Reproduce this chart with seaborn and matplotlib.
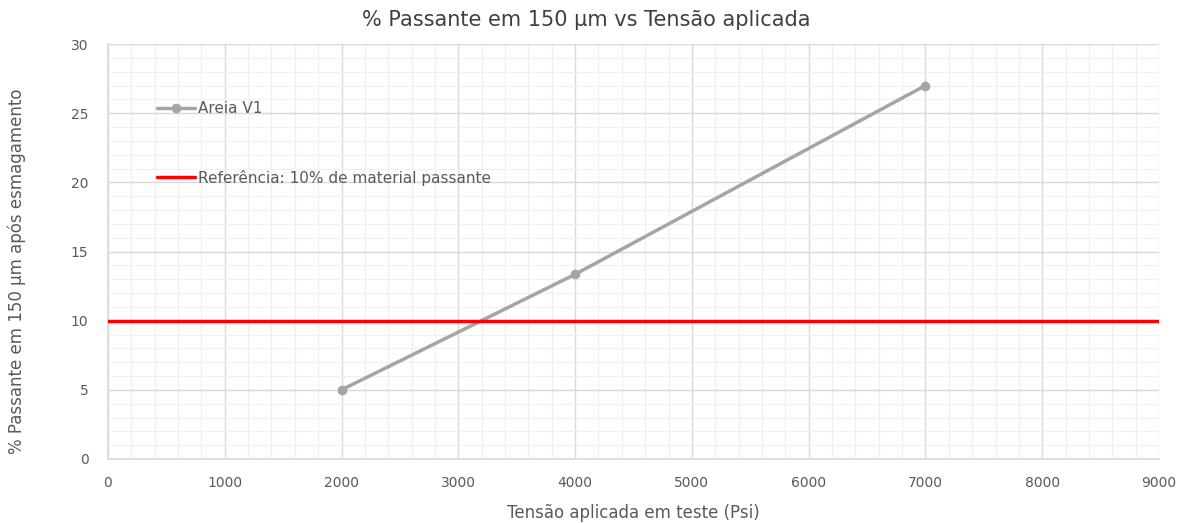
import matplotlib
matplotlib.use("Agg")
import matplotlib.pyplot as plt
from matplotlib.lines import Line2D
from matplotlib.ticker import MultipleLocator
import seaborn as sns
import pandas as pd

# Data
tensao = [2000, 4000, 7000]
passante = [5, 13.35, 27]
serie_nome = "Areia V1"
referencia_valor = 10
referencia_nome = "Referência: 10% de material passante"

title = "% Passante em 150 µm vs Tensão aplicada"
xlabel = "Tensão aplicada em teste (Psi)"
ylabel = "% Passante em 150 µm após esmagamento"

sns.set_theme(style="whitegrid")
plt.rcParams['font.family'] = ['DejaVu Sans']

text_color = "#595959"
fig = plt.figure(figsize=(11.86, 5.23), dpi=100)
ax = fig.add_axes([108/1186, 1 - 459/523, (1159-108)/1186, (459-44)/523])

df = pd.DataFrame({"x": tensao, "y": passante})
sns.lineplot(data=df, x="x", y="y", ax=ax, color="#a5a5a5", linewidth=2.5,
             marker="o", markersize=7, markeredgewidth=0, zorder=3)
ax.axhline(referencia_valor, color="#ff0000", linewidth=2.5, zorder=4)

ax.set_xlim(0, 9000)
ax.set_ylim(0, 30)
ax.xaxis.set_major_locator(MultipleLocator(1000))
ax.xaxis.set_minor_locator(MultipleLocator(200))
ax.yaxis.set_major_locator(MultipleLocator(5))
ax.yaxis.set_minor_locator(MultipleLocator(1))
ax.grid(which="major", color="#d9d9d9", linewidth=1.0)
ax.grid(which="minor", color="#f0f0f0", linewidth=0.9)
ax.set_axisbelow(True)

for s in ["top", "right"]:
    ax.spines[s].set_visible(False)
for s in ["left", "bottom"]:
    ax.spines[s].set_color("#d9d9d9")
    ax.spines[s].set_linewidth(1.2)

ax.tick_params(axis="both", which="both", length=0, colors=text_color, labelsize=10)
ax.tick_params(axis="x", pad=12)
ax.tick_params(axis="y", pad=14)

fig.text(586/1186, 1 - 20/523, title, fontsize=15, color="#404040",
         ha="center", va="center")
ax.set_xlabel(xlabel, fontsize=12, color=text_color, labelpad=10)
ax.set_ylabel(ylabel, fontsize=12, color=text_color)
ax.yaxis.set_label_coords(-0.078, 0.453)

handles = [
    Line2D([], [], color="#a5a5a5", linewidth=2.5, marker="o", markersize=7, markeredgewidth=0),
    Line2D([], [], color="#ff0000", linewidth=2.5),
]
leg = ax.legend(handles, [serie_nome, referencia_nome], loc="upper left",
                bbox_to_anchor=(0.041, 0.877), frameon=False, fontsize=11,
                labelcolor=text_color, handlelength=2.5, handletextpad=0.15,
                labelspacing=3.5, borderaxespad=0)

fig.savefig("out.png", dpi=100)
